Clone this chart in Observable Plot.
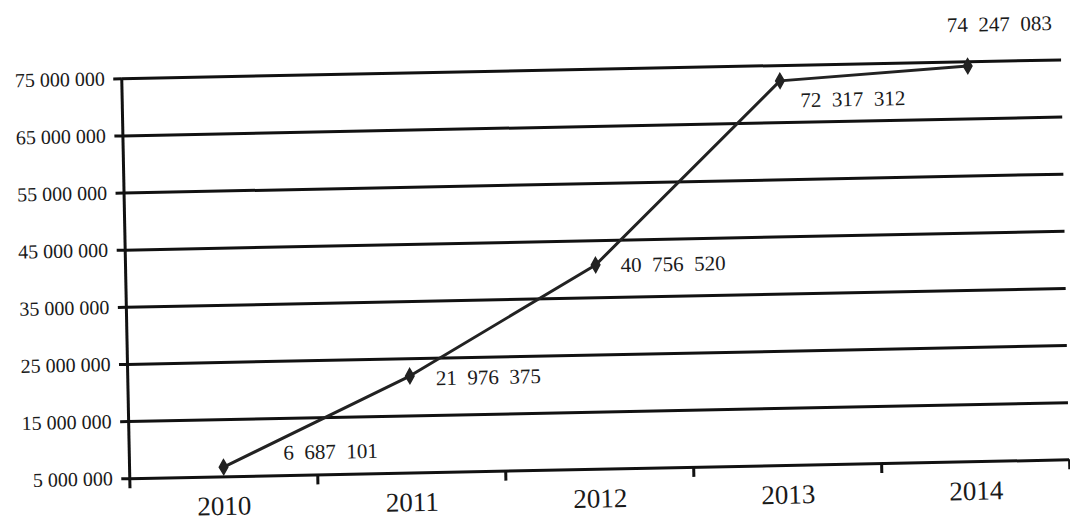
<!DOCTYPE html>
<html>
<head>
<meta charset="utf-8">
<script src="https://cdn.jsdelivr.net/npm/d3@7"></script>
<script src="https://cdn.jsdelivr.net/npm/@observablehq/plot@0.6"></script>
<style>
  html, body { margin: 0; padding: 0; background: #fff; overflow: hidden; }
  #chart { width: 1070px; height: 523px; }
  #chart svg { transform: rotate(-1.15deg); transform-origin: 535px 261px; overflow: visible; }
</style>
</head>
<body>
<div id="chart"></div>
<script>
const years = ["2010", "2011", "2012", "2013", "2014"];
const values = [6687101, 21976375, 40756520, 72317312, 74247083];
const yTicks = [5000000, 15000000, 25000000, 35000000, 45000000, 55000000, 65000000, 75000000];

const FONT = "Liberation Serif";
const data = years.map((year, i) => ({ i: i + 0.5, year, value: values[i] }));
const fmtTick = d => d3.format(",")(d).replace(/,/g, " ");
const fmtLabel = d => d3.format(",")(d).replace(/,/g, "\u00a0\u00a0");

// label placement relative to each point (dx, dy)
const place = [
  [60, -13],
  [26, 3],
  [25, 1],
  [20, 20],
  [-20, -41]
];

const labelMarks = data.map((d, k) => Plot.text([d], {
  x: "i", y: "value", text: r => fmtLabel(r.value),
  dx: place[k][0], dy: place[k][1], textAnchor: "start",
  fontSize: 21, fontFamily: FONT, fill: "#1a1a1a", style: "letter-spacing:0.8px"
}));

const chart = Plot.plot({
  width: 1070,
  height: 523,
  marginLeft: 125,
  marginRight: 5,
  marginTop: 70,
  marginBottom: 53,
  style: { background: "#fff", color: "#1a1a1a", fontFamily: FONT },
  x: { domain: [0, 5] },
  y: { domain: [5000000, 75000000] },
  marks: [
    Plot.gridY(yTicks, { stroke: "#111", strokeOpacity: 1, strokeWidth: 3 }),
    Plot.axisY(yTicks, { tickFormat: fmtTick, tickSize: 8, tickPadding: 9, fontSize: 20, fontFamily: FONT, stroke: "#111", strokeWidth: 3, label: null }),
    Plot.axisX([0, 1, 2, 3, 4, 5], { tickFormat: () => "", tickSize: 10, stroke: "#111", strokeWidth: 3, label: null }),
    Plot.axisX(data.map(d => d.i), { tickFormat: v => years[Math.round(v - 0.5)], tickSize: 0, tickPadding: 19, fontSize: 27, fontFamily: FONT, label: null }),
    Plot.ruleX([0], { stroke: "#111", strokeWidth: 3, y1: 75000000, y2: 5000000 }),
    Plot.line(data, { x: "i", y: "value", stroke: "#222", strokeWidth: 3 }),
    Plot.dot(data, { x: "i", y: "value", symbol: "diamond", r: 4.5, fill: "#222", stroke: "#222", strokeWidth: 1.5 }),
    ...labelMarks
  ]
});
document.getElementById("chart").appendChild(chart);
</script>
</body>
</html>
